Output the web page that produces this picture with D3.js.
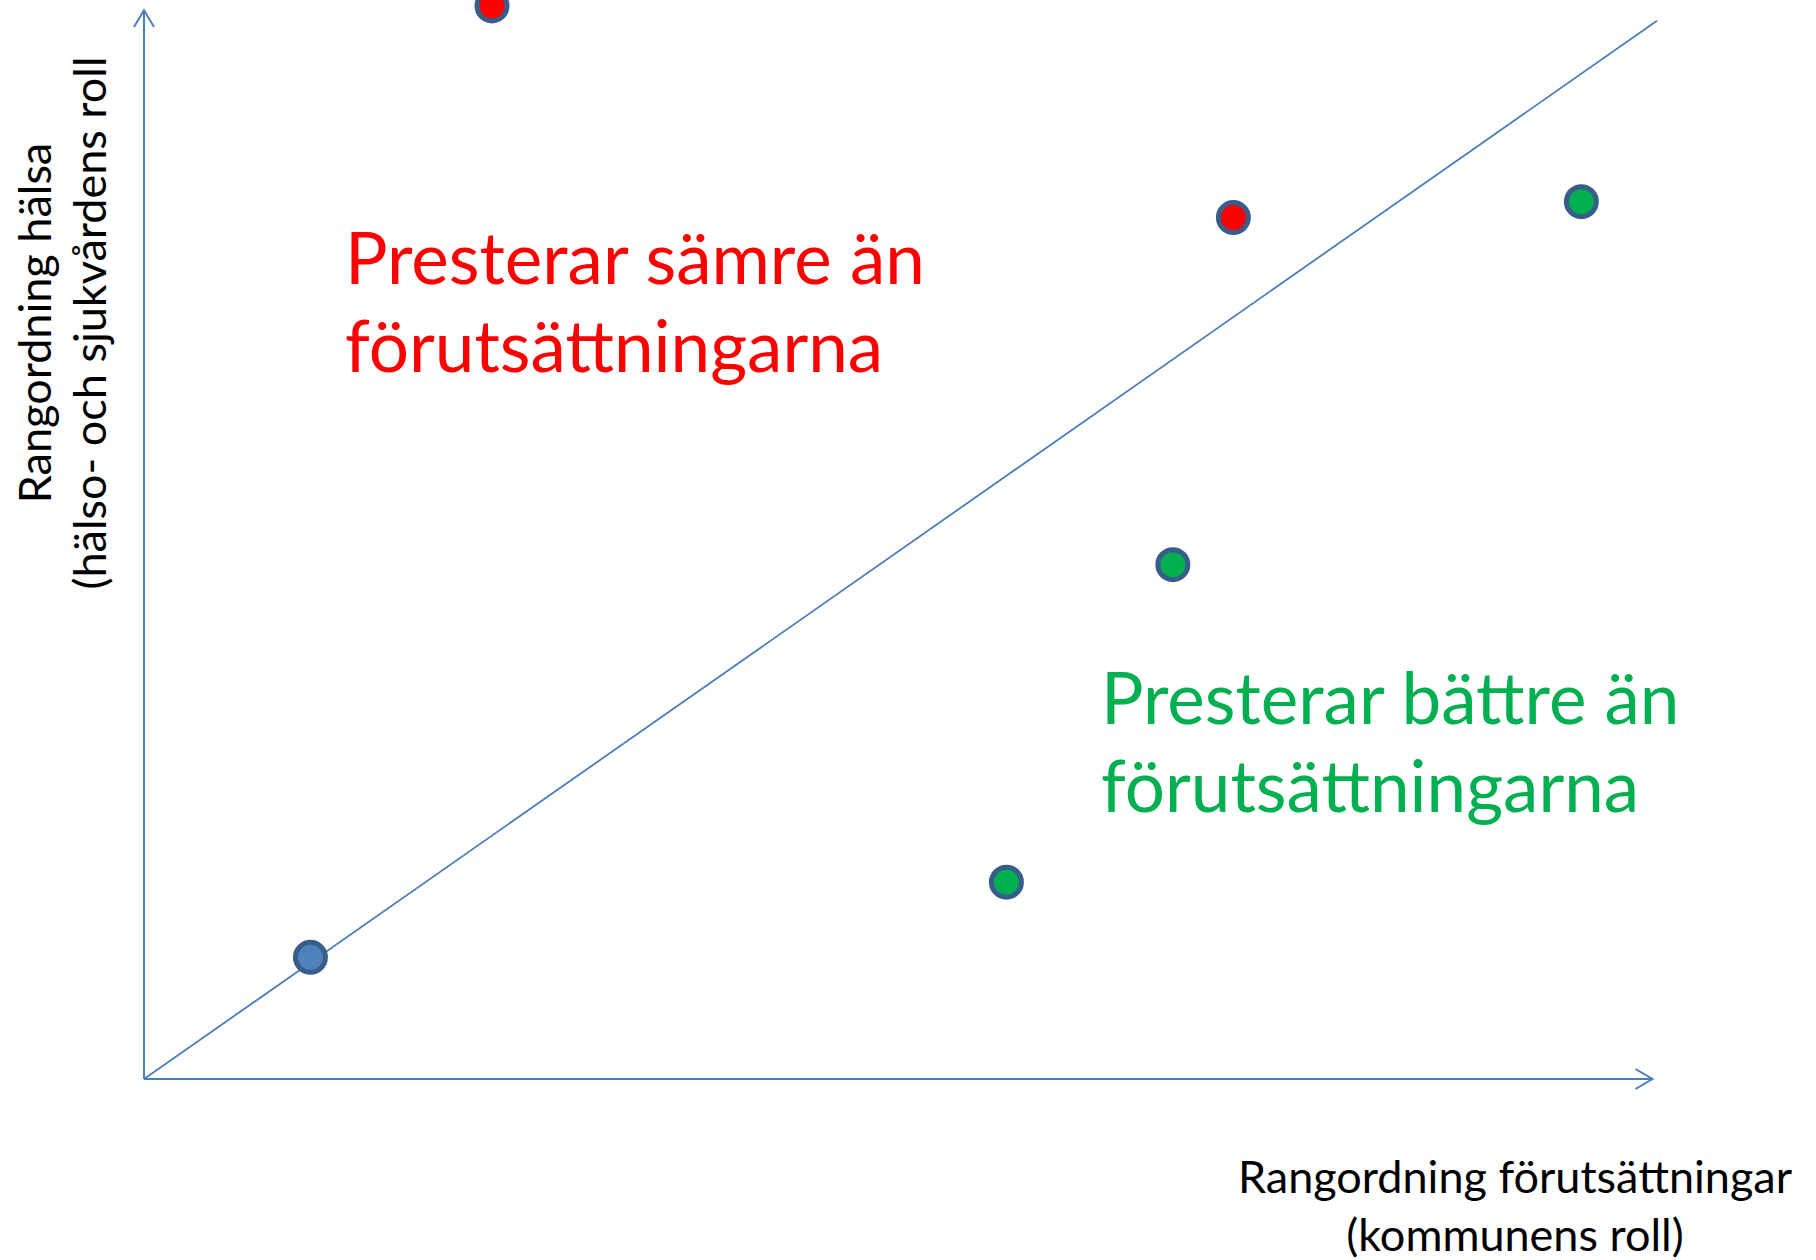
<!DOCTYPE html>
<html>
<head>
<meta charset="utf-8">
<script src="https://cdn.jsdelivr.net/npm/d3@7"></script>
<style>
  body { margin: 0; background: #fff; }
  text { font-family: Lato, "Open Sans", sans-serif; }
</style>
</head>
<body>
<div id="chart"></div>
<script>
// values (0 = origin, 100 = end of the diagonal)
var pointX = [23, 72, 95, 68, 57, 11];
var pointY = [101.4, 81.4, 82.9, 48.6, 18.6, 11.5];
var pointGroup = ["worse", "worse", "better", "better", "better", "even"];
var diagonal = [[0, 0], [100, 100]];
var axisEnd = { x: 99.7, y: 101 };
var redLabel = ["Presterar sämre än", "förutsättningarna"];
var greenLabel = ["Presterar bättre än", "förutsättningarna"];
var xTitle = ["Rangordning förutsättningar", "(kommunens roll)"];
var yTitle = ["Rangordning hälsa", "(hälso- och sjukvårdens roll"];

var width = 1816, height = 1260;
var lineColor = "#4A7EBB";
var color = d3.scaleOrdinal()
  .domain(["worse", "better", "even"])
  .range(["#FF0000", "#00B050", "#4F81BD"]);

var x = d3.scaleLinear().domain([0, 100]).range([144, 1657]);
var y = d3.scaleLinear().domain([0, 100]).range([1079, 20.7]);

var svg = d3.select("#chart").append("svg")
  .attr("width", width)
  .attr("height", height);

svg.append("defs").append("marker")
  .attr("id", "arrow")
  .attr("viewBox", "-20 -12 24 24")
  .attr("markerUnits", "userSpaceOnUse")
  .attr("markerWidth", 24)
  .attr("markerHeight", 24)
  .attr("refX", 0)
  .attr("refY", 0)
  .attr("orient", "auto")
  .append("path")
  .attr("d", "M-17,-10L0,0L-17,10")
  .attr("fill", "none")
  .attr("stroke", lineColor)
  .attr("stroke-width", 2);

// axes
svg.append("line")
  .attr("x1", x(0)).attr("y1", y(0))
  .attr("x2", x(axisEnd.x)).attr("y2", y(0))
  .attr("stroke", lineColor).attr("stroke-width", 2)
  .attr("marker-end", "url(#arrow)");
svg.append("line")
  .attr("x1", x(0)).attr("y1", y(0))
  .attr("x2", x(0)).attr("y2", y(axisEnd.y))
  .attr("stroke", lineColor).attr("stroke-width", 2)
  .attr("marker-end", "url(#arrow)");

// diagonal
svg.append("path")
  .attr("d", d3.line().x(function(d){ return x(d[0]); }).y(function(d){ return y(d[1]); })(diagonal))
  .attr("fill", "none")
  .attr("stroke", lineColor)
  .attr("stroke-width", 1.8);

// points
svg.selectAll("circle.pt")
  .data(pointX)
  .enter()
  .append("circle")
  .attr("class", "pt")
  .attr("cx", function(d){ return x(d); })
  .attr("cy", function(d, i){ return y(pointY[i]); })
  .attr("r", 15)
  .attr("fill", function(d, i){ return color(pointGroup[i]); })
  .attr("stroke", "#385D8A")
  .attr("stroke-width", 5);

function block(lines, px, py, size, fill, anchor, lh) {
  var t = svg.append("text")
    .attr("x", px).attr("y", py)
    .attr("font-size", size)
    .attr("fill", fill)
    .attr("text-anchor", anchor);
  t.selectAll("tspan")
    .data(lines)
    .enter()
    .append("tspan")
    .attr("x", px)
    .attr("dy", function(d, i){ return i === 0 ? 0 : lh; })
    .text(function(d){ return d; });
  return t;
}

block(redLabel, 345, 284, 71, "#FF0000", "start", 88);
block(greenLabel, 1101, 724, 71, "#00B050", "start", 88);
block(xTitle, 1515, 1193, 45, "#000", "middle", 58);

// y title, both lines centred on the same height
var yt = svg.append("g").attr("transform", "translate(0,323) rotate(-90)");
yt.append("text").attr("x", 0).attr("y", 51).attr("font-size", 45)
  .attr("text-anchor", "middle").text(yTitle[0]);
yt.append("text").attr("x", 0).attr("y", 106).attr("font-size", 45)
  .attr("text-anchor", "middle").text(yTitle[1]);
</script>
</body>
</html>
